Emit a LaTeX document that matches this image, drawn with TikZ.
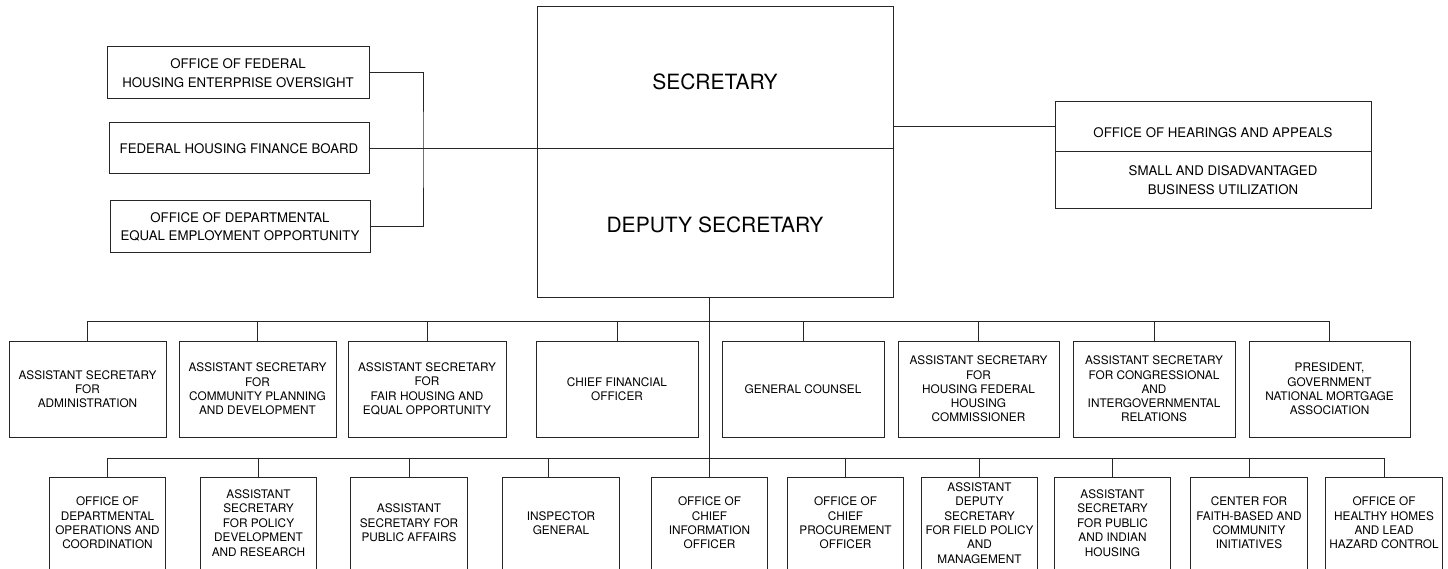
\documentclass[tikz,border=0pt]{standalone}
\usepackage{fontspec}
\setmainfont{TeX Gyre Heros}
\colorlet{lc}{black!85}

\begin{document}
\begin{tikzpicture}[x=1pt,y=-1pt,
   hb/.style={draw=lc,line width=1pt,minimum width=356pt,inner sep=0pt,font=\fontsize{21}{25}\selectfont},
   sb/.style={draw=lc,line width=1pt,inner sep=0pt,align=center,font=\fontsize{13.25}{18.7}\selectfont},
   mb/.style={draw=lc,line width=1pt,minimum width=160pt,minimum height=96pt,inner sep=0pt,align=center,font=\fontsize{11.8}{14.3}\selectfont},
   lb/.style={draw=lc,line width=1pt,minimum width=116.5pt,minimum height=92pt,inner sep=0pt,align=center,font=\fontsize{11.8}{14.4}\selectfont},
   e/.style={draw=lc,line width=1pt}]
\useasboundingbox (0,0) rectangle (1448,569);
%% ---- head ----
\node[hb,minimum height=142pt,text height=24pt,text depth=0pt] (sec) at (715,78) {SECRETARY};
\node[hb,minimum height=149pt,text height=18pt,text depth=0pt] (dep) at (715,223.5) {DEPUTY SECRETARY};
%% ---- left offices ----
\node[sb,minimum width=262pt,minimum height=52pt] (ofheo) at (238,73) {OFFICE OF FEDERAL\\HOUSING ENTERPRISE OVERSIGHT};
\node[sb,minimum width=260pt,minimum height=51pt] (fhfb) at (239,148.5) {FEDERAL HOUSING FINANCE BOARD};
\node[sb,minimum width=260pt,minimum height=52pt] (eeo) at (240,227) {OFFICE OF DEPARTMENTAL\\EQUAL EMPLOYMENT OPPORTUNITY};
%% ---- right offices ----
\node[sb,minimum width=316pt,minimum height=50pt,text height=22pt,text depth=0pt] (hear) at (1213,127) {OFFICE OF HEARINGS AND APPEALS};
\node[sb,minimum width=316pt,minimum height=57pt] (sdb) at (1213,180.5) {\hspace*{20pt}SMALL AND DISADVANTAGED\\\hspace*{20pt}BUSINESS UTILIZATION};
%% ---- middle row ----
\node[mb,minimum width=157pt] (asa) at (87.5,389) {ASSISTANT SECRETARY\\FOR\\ADMINISTRATION};
\node[mb,minimum width=157pt] (ascpd) at (257.5,389) {ASSISTANT SECRETARY\\FOR\\COMMUNITY PLANNING\\AND DEVELOPMENT};
\node[mb,minimum width=158pt] (asfh) at (427,389) {ASSISTANT SECRETARY\\FOR\\FAIR HOUSING AND\\EQUAL OPPORTUNITY};
\node[mb,minimum width=162pt] (cfo) at (617,389) {CHIEF FINANCIAL\\OFFICER};
\node[mb,minimum width=162pt] (gc) at (803,389) {GENERAL COUNSEL};
\node[mb,minimum width=161pt] (ashf) at (978.5,389) {ASSISTANT SECRETARY\\FOR\\HOUSING FEDERAL\\HOUSING\\COMMISSIONER};
\node[mb,minimum width=162pt] (ascir) at (1154,389) {ASSISTANT SECRETARY\\FOR CONGRESSIONAL\\AND\\INTERGOVERNMENTAL\\RELATIONS};
\node[mb,minimum width=161pt] (pres) at (1329.5,389) {PRESIDENT,\\GOVERNMENT\\NATIONAL MORTGAGE\\ASSOCIATION};
%% ---- lower row ----
\node[lb] (odoc) at (107.5,523) {OFFICE OF\\DEPARTMENTAL\\OPERATIONS AND\\COORDINATION};
\node[lb] (aspdr) at (258.5,523) {ASSISTANT\\SECRETARY\\FOR POLICY\\DEVELOPMENT\\AND RESEARCH};
\node[lb] (aspa) at (409,523) {ASSISTANT\\SECRETARY FOR\\PUBLIC AFFAIRS};
\node[lb] (ig) at (561,523) {INSPECTOR\\GENERAL};
\node[lb] (ocio) at (709.5,523) {OFFICE OF\\CHIEF\\INFORMATION\\OFFICER};
\node[lb] (cpo) at (845.5,523) {OFFICE OF\\CHIEF\\PROCUREMENT\\OFFICER};
\node[lb] (adsf) at (979.5,523) {ASSISTANT\\DEPUTY\\SECRETARY\\FOR FIELD POLICY\\AND\\MANAGEMENT};
\node[lb] (aspih) at (1112.5,523) {ASSISTANT\\SECRETARY\\FOR PUBLIC\\AND INDIAN\\HOUSING};
\node[lb] (cfbci) at (1249,523) {CENTER FOR\\FAITH-BASED AND\\COMMUNITY\\INITIATIVES};
\node[lb] (ohh) at (1384,523) {OFFICE OF\\HEALTHY HOMES\\AND LEAD\\HAZARD CONTROL};
%% ---- connectors ----
\coordinate (brk) at (423,150);
\coordinate (busA) at (0,321);
\coordinate (busB) at (0,458);
\coordinate (igtop) at ([xshift=-13pt]ig.north);
\draw[e] (ofheo.east) -| (brk) |- (eeo.east);
\draw[e] (fhfb.east) -- (fhfb.east -| sec.west);
\draw[e] (sec.east |- hear.west) -- (hear.west);
\draw[e] (dep.south -| ocio.north) -- (ocio.north);
\draw[e] (asa.north |- busA) -- (pres.north |- busA);
\foreach \n in {asa,ascpd,asfh,cfo,gc,ashf,ascir,pres}
  \draw[e] (\n.north) -- (\n.north |- busA);
\draw[e] (odoc.north |- busB) -- (ohh.north |- busB);
\foreach \n in {odoc,aspdr,aspa,cpo,adsf,aspih,cfbci,ohh}
  \draw[e] (\n.north) -- (\n.north |- busB);
\draw[e] (igtop) -- (igtop |- busB);
\end{tikzpicture}
\end{document}
